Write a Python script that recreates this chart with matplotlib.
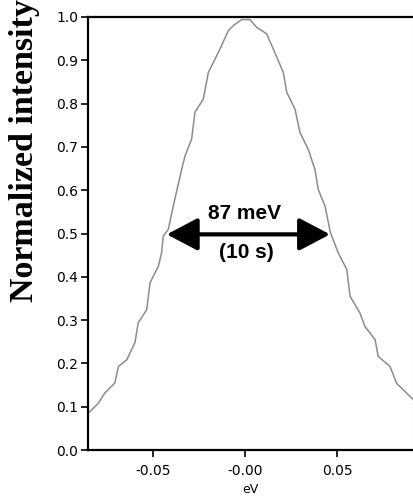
import numpy as np
import matplotlib
matplotlib.use("Agg")
import matplotlib.pyplot as plt

# energy (eV) and normalized intensity
energy = [-0.0853, -0.0842, -0.0797, -0.0761, -0.0707, -0.0688, -0.0643, -0.0598,
          -0.0580, -0.0534, -0.0516, -0.0471, -0.0453, -0.0444, -0.0425, -0.0417,
          -0.0390, -0.0344, -0.0326, -0.0290, -0.0272, -0.0227, -0.0199, -0.0145,
          -0.0091, -0.0064, -0.0018, 0.0027, 0.0064, 0.0118, 0.0154, 0.0208,
          0.0227, 0.0272, 0.0299, 0.0344, 0.0380, 0.0398, 0.0435, 0.0457,
          0.0462, 0.0507, 0.0553, 0.0571, 0.0625, 0.0652, 0.0707, 0.0724,
          0.0788, 0.0824, 0.0879, 0.0915]
intensity = [0.085, 0.089, 0.108, 0.132, 0.155, 0.193, 0.208, 0.248,
             0.294, 0.324, 0.386, 0.424, 0.456, 0.494, 0.505, 0.509,
             0.563, 0.648, 0.679, 0.718, 0.780, 0.810, 0.872, 0.918,
             0.968, 0.980, 0.994, 0.994, 0.976, 0.961, 0.926, 0.872,
             0.826, 0.787, 0.733, 0.694, 0.648, 0.602, 0.563, 0.517,
             0.505, 0.455, 0.417, 0.355, 0.316, 0.285, 0.255, 0.216,
             0.193, 0.154, 0.131, 0.116]

xticks = [-0.05, 0.0, 0.05]
xticklabels = ["-0.05", "-0.00", "0.05"]
yticks = [0.0, 0.1, 0.2, 0.3, 0.4, 0.5, 0.6, 0.7, 0.8, 0.9, 1.0]

fwhm_left, fwhm_right, half = -0.0425, 0.0462, 0.498

fig = plt.figure(figsize=(4.14, 5.0), dpi=100)
ax = fig.add_axes([0.2126, 0.10, 0.785, 0.866])

ax.plot(energy, intensity, color="#8c8c8c", lw=1.1)
ax.set_xlim(-0.0853, 0.0913)
ax.set_ylim(0.0, 1.0)

ax.set_xticks(xticks)
ax.set_xticklabels(xticklabels)
ax.set_yticks(yticks)
ax.set_yticklabels(["%.1f" % v for v in yticks])
ax.tick_params(direction="out", length=5, width=1.2, labelsize=10)
ax.tick_params(axis="x", pad=5)
ax.tick_params(axis="y", pad=2)
ax.set_xlabel("eV", fontsize=9, labelpad=4)

for s in ["left", "bottom", "top"]:
    ax.spines[s].set_linewidth(1.6)
    ax.spines[s].set_color("black")
ax.spines["right"].set_color("#cccccc")
ax.spines["right"].set_linewidth(0.8)

# FWHM arrow
ax.annotate("", xy=(fwhm_left, half), xytext=(fwhm_right, half),
            arrowprops=dict(arrowstyle="<|-|>,head_length=1.9,head_width=1.0",
                            color="black", lw=3, shrinkA=0, shrinkB=0))
ax.text(0.0, 0.546, "87 meV", ha="center", va="center",
        fontsize=15, fontweight="bold", family="Liberation Sans")
ax.text(0.001, 0.456, "(10 s)", ha="center", va="center",
        fontsize=15, fontweight="bold", family="Liberation Sans")

fig.text(25 / 414, 0.698, "Normalized intensity", rotation=90,
         ha="center", va="center", fontsize=24.5, fontweight="bold",
         family="Liberation Serif")

fig.savefig("out.png", dpi=100)
